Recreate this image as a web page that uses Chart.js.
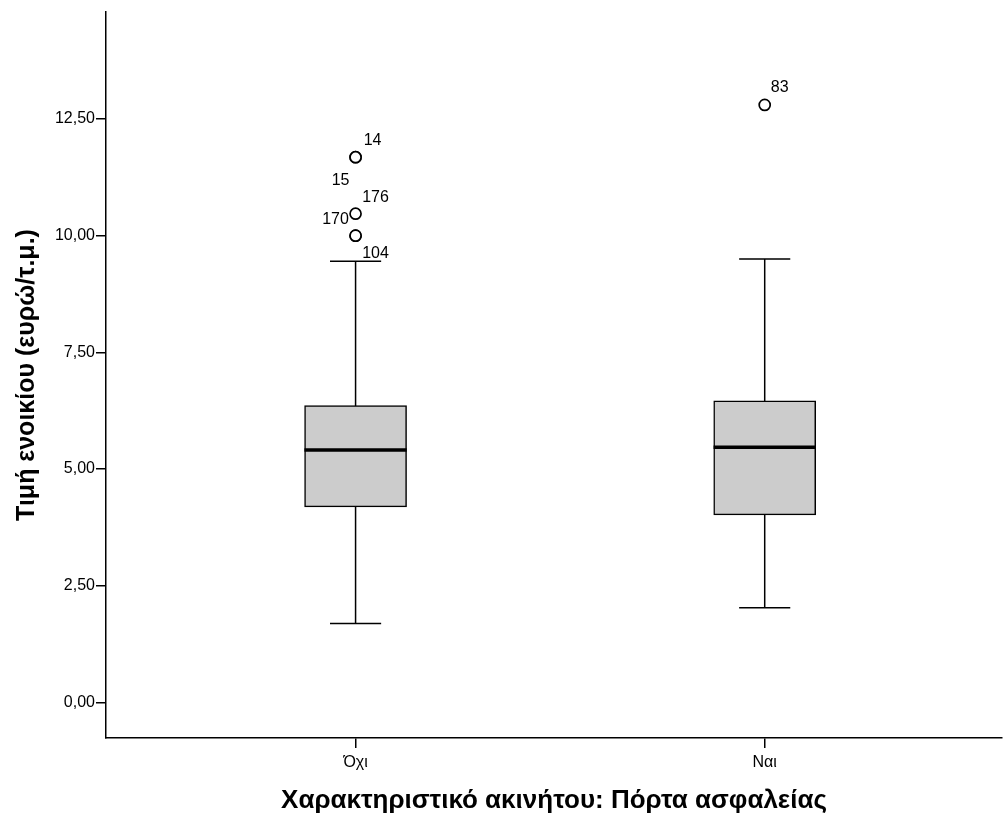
<!DOCTYPE html>
<html lang="el">
<head>
    <meta charset="UTF-8">
    <title>Τιμή ενοικίου - Πόρτα ασφαλείας</title>
    <script src="https://cdn.jsdelivr.net/npm/chart.js"></script>
    <style>
        body { margin: 0; background: #fff; overflow: hidden; }
    </style>
</head>
<body>
    <canvas id="boxChart" width="1003" height="814"></canvas>

    <script>
        // Boxplot values
        const categories = ['Όχι', 'Ναι'];
        const q1 = [4.19, 4.02];
        const medians = [5.41, 5.47];
        const q3 = [6.36, 6.46];
        const whiskerLow = [1.69, 2.03];
        const whiskerHigh = [9.45, 9.50];

        // Outliers: which box they belong to, value, case label
        const outlierBox = [0, 0, 0, 0, 0, 1];
        const outlierValues = [11.68, 11.68, 10.47, 10.00, 10.00, 12.80];
        const outlierLabels = ['14', '15', '176', '170', '104', '83'];

        const yTicks = [0, 2.5, 5, 7.5, 10, 12.5];

        // label placement around the circles (pixels)
        const labelOffsets = [[17, -17], [-15, 23], [20, -16], [-20, -16], [20, 18], [15, -17]];

        const FONT = "'Liberation Sans', Arial, sans-serif";
        const halfBox = 0.125;
        const halfCap = 0.0625;

        function medianPoints() {
            const pts = [];
            categories.forEach((c, i) => {
                pts.push({x: i + 1 - halfBox, y: medians[i]});
                pts.push({x: i + 1 + halfBox, y: medians[i]});
                pts.push({x: i + 1, y: null});
            });
            return pts;
        }

        function whiskerPoints() {
            const pts = [];
            categories.forEach((c, i) => {
                const x = i + 1;
                pts.push({x: x, y: whiskerLow[i]}, {x: x, y: whiskerHigh[i]}, {x: x, y: null});
                pts.push({x: x - halfCap, y: whiskerLow[i]}, {x: x + halfCap, y: whiskerLow[i]}, {x: x, y: null});
                pts.push({x: x - halfCap, y: whiskerHigh[i]}, {x: x + halfCap, y: whiskerHigh[i]}, {x: x, y: null});
            });
            return pts;
        }

        const outlierLabelPlugin = {
            id: 'outlierLabels',
            afterDatasetsDraw(chart) {
                const meta = chart.getDatasetMeta(3);
                const ctx = chart.ctx;
                ctx.save();
                ctx.fillStyle = '#000';
                ctx.font = '16px ' + FONT;
                ctx.textAlign = 'center';
                ctx.textBaseline = 'middle';
                meta.data.forEach((pt, i) => {
                    const off = labelOffsets[i];
                    ctx.fillText(outlierLabels[i], pt.x + off[0], pt.y + off[1]);
                });
                ctx.restore();
            }
        };

        const ctx = document.getElementById('boxChart').getContext('2d');
        new Chart(ctx, {
            type: 'bar',
            data: {
                datasets: [{
                    type: 'line',
                    data: medianPoints(),
                    borderColor: '#000',
                    borderWidth: 3.5,
                    pointRadius: 0,
                    spanGaps: false,
                    order: 0
                }, {
                    type: 'bar',
                    data: categories.map((c, i) => ({x: i + 1, y: [q1[i], q3[i]]})),
                    backgroundColor: '#cccccc',
                    borderColor: '#000',
                    borderWidth: 1.5,
                    borderSkipped: false,
                    barThickness: 102,
                    order: 2
                }, {
                    type: 'line',
                    data: whiskerPoints(),
                    borderColor: '#000',
                    borderWidth: 1.5,
                    pointRadius: 0,
                    spanGaps: false,
                    order: 3
                }, {
                    type: 'scatter',
                    data: outlierValues.map((v, i) => ({x: outlierBox[i] + 1, y: v})),
                    backgroundColor: '#fff',
                    borderColor: '#000',
                    borderWidth: 1.7,
                    pointRadius: 5.5,
                    order: 1
                }]
            },
            options: {
                responsive: false,
                animation: false,
                layout: { autoPadding: false, padding: { top: 12, right: 1, left: 0, bottom: 0 } },
                plugins: {
                    legend: { display: false },
                    tooltip: { enabled: false }
                },
                scales: {
                    x: {
                        type: 'linear',
                        offset: false,
                        min: 0.39,
                        max: 2.58,
                        afterBuildTicks: (scale) => {
                            scale.ticks = categories.map((c, i) => ({value: i + 1}));
                        },
                        afterFit: (scale) => { scale.height = 76; },
                        ticks: {
                            callback: (v) => categories[v - 1],
                            color: '#000',
                            font: { family: FONT, size: 16 },
                            padding: 5,
                            maxRotation: 0
                        },
                        grid: { offset: false, drawOnChartArea: false, drawTicks: true, tickLength: 10, color: '#000', lineWidth: 1.5 },
                        border: { display: true, color: '#000', width: 1.5 },
                        title: {
                            display: true,
                            text: 'Χαρακτηριστικό ακινήτου: Πόρτα ασφαλείας',
                            color: '#000',
                            font: { family: FONT, size: 26, weight: 'bold' },
                            padding: { top: 0, bottom: -2 }
                        }
                    },
                    y: {
                        min: -0.76,
                        max: 14.79,
                        afterBuildTicks: (scale) => {
                            scale.ticks = yTicks.map(v => ({value: v}));
                        },
                        afterFit: (scale) => { scale.width = 106; },
                        ticks: {
                            callback: (v) => v.toFixed(2).replace('.', ','),
                            color: '#000',
                            font: { family: FONT, size: 16 },
                            padding: 1
                        },
                        grid: { drawOnChartArea: false, drawTicks: true, tickLength: 10, color: '#000', lineWidth: 1.5 },
                        border: { display: true, color: '#000', width: 1.5 },
                        title: {
                            display: true,
                            text: 'Τιμή ενοικίου (ευρώ/τ.μ.)',
                            color: '#000',
                            font: { family: FONT, size: 25, weight: 'bold' },
                            padding: { top: 12, bottom: 0 }
                        }
                    }
                }
            },
            plugins: [outlierLabelPlugin]
        });
    </script>
</body>
</html>
